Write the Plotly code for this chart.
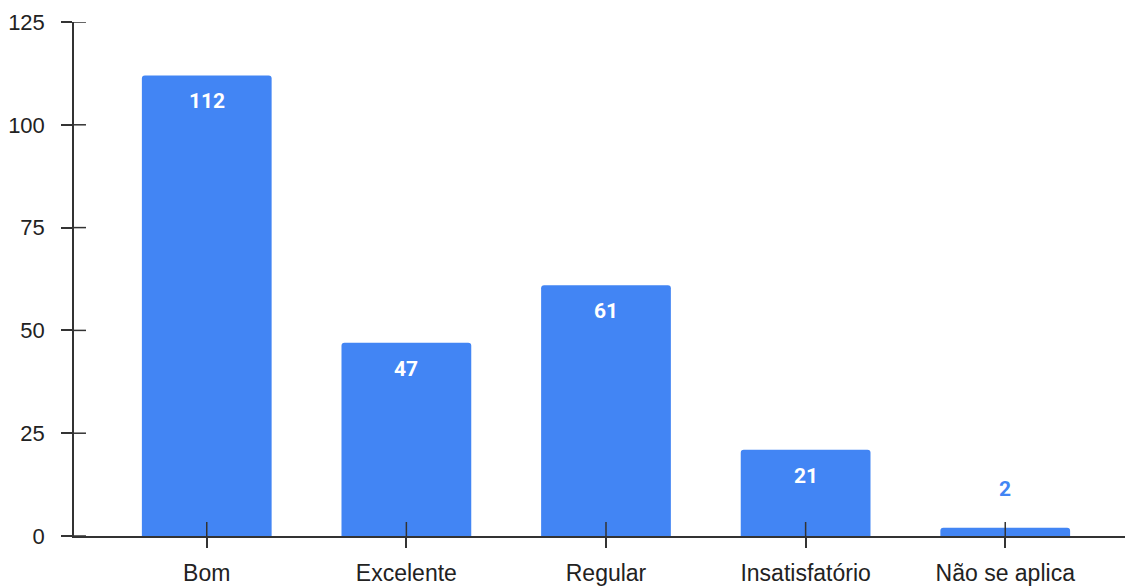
import plotly.graph_objects as go

categories = ["Bom", "Excelente", "Regular", "Insatisfatório", "Não se aplica"]
values = [112, 47, 61, 21, 2]
y_ticks = [0, 25, 50, 75, 100, 125]

BAR = "#4285F4"
AX = "#333333"
TXT = "#222222"
X_RANGE = [-0.665, 4.64]
W, H = 1125, 580
ML, MR, MT, MB = 64, 0, 14, 52
PLOT_W = W - ML - MR

fig = go.Figure()
fig.add_trace(go.Bar(
    x=list(range(len(categories))), y=values,
    marker=dict(color=BAR, line=dict(width=0), cornerradius=3),
    width=0.65, hoverinfo="skip",
))

# value labels
for i, v in enumerate(values):
    inside = v > 10
    fig.add_annotation(
        x=i, y=v, xref="x", yref="y", text=str(v), showarrow=False,
        yshift=-26 if inside else 39,
        font=dict(family="Roboto", size=21, color="white" if inside else BAR, weight="bold"),
    )

# inner halves of tick marks so ticks cross the axis lines
shapes = []
for t in y_ticks:
    shapes.append(dict(type="line", xref="paper", x0=0, x1=12 / PLOT_W,
                       yref="y", y0=t, y1=t,
                       line=dict(color=AX, width=1.5)))
for i in range(len(categories)):
    shapes.append(dict(type="line", yref="y", ysizemode="pixel", yanchor=0,
                       y0=0, y1=14, xref="x", x0=i, x1=i,
                       line=dict(color=AX, width=1.5)))

fig.update_layout(
    width=W, height=H,
    margin=dict(l=ML, r=MR, t=MT, b=MB),
    paper_bgcolor="white", plot_bgcolor="white",
    showlegend=False, shapes=shapes,
    font=dict(family="Liberation Sans", color=TXT, size=22),
    xaxis=dict(
        range=X_RANGE, tickmode="array",
        tickvals=list(range(len(categories))), ticktext=categories,
        showgrid=False, zeroline=False, showline=True, linecolor=AX, linewidth=1.5,
        ticks="outside", ticklen=10, tickwidth=1.5, tickcolor=AX,
        tickfont=dict(family="Liberation Sans", size=23, color=TXT),
        ticklabelstandoff=6,
    ),
    yaxis=dict(
        range=[0, 125], tickmode="array", tickvals=y_ticks,
        showgrid=False, zeroline=False, showline=True, linecolor=AX, linewidth=1.5,
        ticks="outside", ticklen=11, tickwidth=1.5, tickcolor=AX,
        tickfont=dict(family="Liberation Sans", size=22, color=TXT),
        ticklabelstandoff=12,
    ),
)

fig.write_html("out.html")
